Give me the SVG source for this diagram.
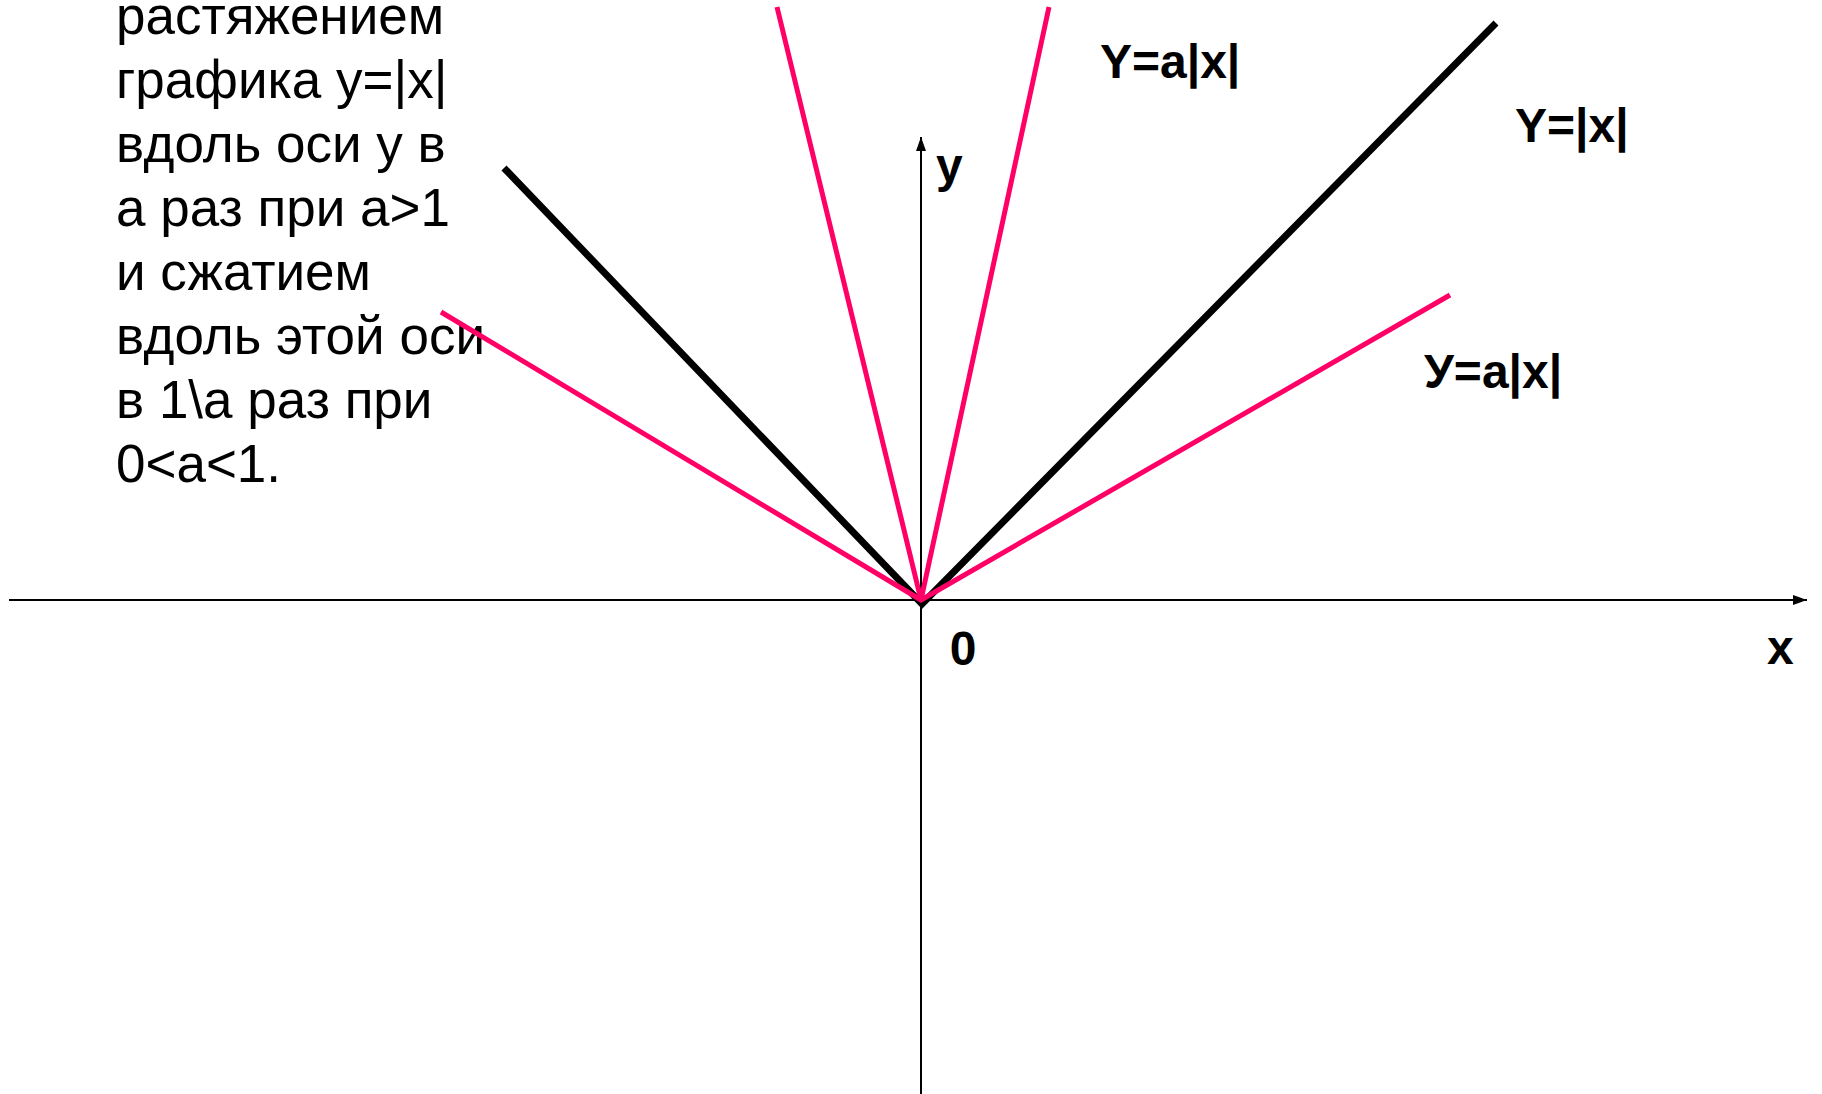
<svg xmlns="http://www.w3.org/2000/svg" width="1822" height="1094" viewBox="0 0 1822 1094">
<style>
.axis{stroke:#000;stroke-width:2;fill:none}
.blk{stroke:#000;stroke-width:7;fill:none}
.pnk{stroke:#ff0066;stroke-width:5;fill:none}
.lbl{font-family:"Liberation Sans",Arial,sans-serif;font-weight:bold;font-size:48px;fill:#000}
.txt{font-family:"Liberation Sans",Arial,sans-serif;font-size:53px;fill:#000}
</style>
<defs>
<marker id="arr" viewBox="0 0 14 10" refX="14" refY="5" markerWidth="14" markerHeight="10" markerUnits="userSpaceOnUse" orient="auto">
<path d="M0,0 L14,5 L0,10 z" fill="#000"/>
</marker>
</defs>
<rect width="1822" height="1094" fill="#fff"/>
<g id="text-block">
<text class="txt" x="116" y="34">растяжением</text>
<text class="txt" x="116" y="98">графика y=|x|</text>
<text class="txt" x="116" y="162">вдоль оси у в</text>
<text class="txt" x="116" y="226">а раз при а&gt;1</text>
<text class="txt" x="116" y="290">и сжатием</text>
<text class="txt" x="116" y="354">вдоль этой оси</text>
<text class="txt" x="116" y="418">в 1\а раз при</text>
<text class="txt" x="116" y="482">0&lt;а&lt;1.</text>
</g>
<g id="axes">
<line class="axis" x1="9" y1="600" x2="1807" y2="600" marker-end="url(#arr)"/>
<line class="axis" x1="921" y1="1094" x2="921" y2="137" marker-end="url(#arr)"/>
</g>
<g id="graphs">
<polyline class="blk" points="504,168 922,604 1496,23"/>
<polyline class="pnk" points="441,312 921,600 1450,295"/>
<polyline class="pnk" points="777,7 921,600 1049,7"/>
</g>
<g id="labels">
<text class="lbl" x="936" y="182">y</text>
<text class="lbl" x="963" y="665" text-anchor="middle">0</text>
<text class="lbl" x="1767" y="664">x</text>
<text class="lbl" x="1100" y="78">Y=a|x|</text>
<text class="lbl" x="1515" y="142">Y=|x|</text>
<text class="lbl" x="1424" y="388">У=a|x|</text>
</g>
</svg>
